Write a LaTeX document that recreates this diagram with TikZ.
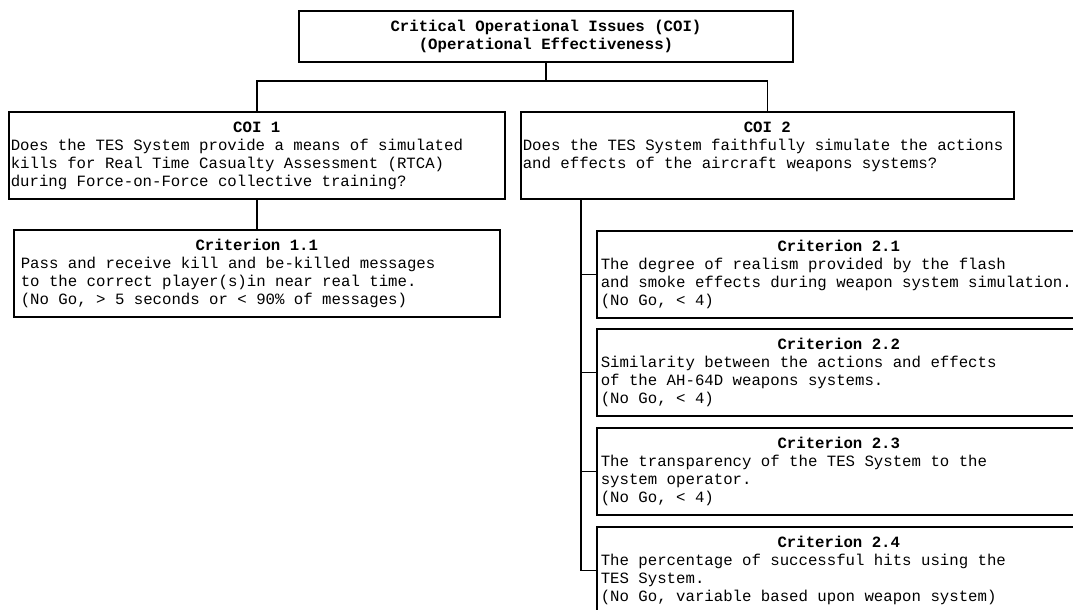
\documentclass[tikz,border=0pt]{standalone}
\usepackage{fontspec}
\setmonofont{Liberation Mono}
\newcommand{\cbody}[3]{\parbox[t][87pt][t]{#1}{\ttfamily\fontsize{15.7pt}{17.8pt}\selectfont\centering\bfseries\rule{0pt}{21pt}#2\par\raggedright\mdseries #3}}
\tikzset{
  cbox/.style={draw=black, line width=1.6pt, inner ysep=0pt, anchor=north west},
  conn/.style={draw=black, line width=1.6pt}
}
\begin{document}
\begin{tikzpicture}[x=1pt,y=-1pt]
\clip (0,0) rectangle (1073,610);
\fill[white] (0,0) rectangle (1073,610);
\node[draw=black, line width=1.6pt, inner sep=0pt, minimum width=494pt, minimum height=51pt, align=center,
  font=\ttfamily\bfseries\fontsize{15.7pt}{18pt}\selectfont] (top) at (546,36.5)
  {Critical Operational Issues (COI)\\(Operational Effectiveness)};
\node[cbox, inner xsep=2pt] (coi1) at (8,111) {\cbody{492pt}{COI 1}{Does the TES System provide a means of simulated\\kills for Real Time Casualty Assessment (RTCA)\\during Force-on-Force collective training?}};
\node[cbox, inner xsep=2pt] (coi2) at (520,111) {\cbody{489pt}{COI 2}{Does the TES System faithfully simulate the actions\\and effects of the aircraft weapons systems?}};
\node[cbox, inner xsep=7pt] (c11) at (13,229) {\cbody{472pt}{Criterion 1.1}{Pass and receive kill and be-killed messages\\to the correct player(s)in near real time.\\(No Go, > 5 seconds or < 90\% of messages)}};
\node[cbox, inner xsep=4pt] (c21) at (596,230) {\cbody{476pt}{Criterion 2.1}{The degree of realism provided by the flash\\and smoke effects during weapon system simulation.\\(No Go, < 4)}};
\node[cbox, inner xsep=4pt] (c22) at (596,328) {\cbody{476pt}{Criterion 2.2}{Similarity between the actions and effects\\of the AH-64D weapons systems.\\(No Go, < 4)}};
\node[cbox, inner xsep=4pt] (c23) at (596,427) {\cbody{476pt}{Criterion 2.3}{The transparency of the TES System to the\\system operator.\\(No Go, < 4)}};
\node[cbox, inner xsep=4pt] (c24) at (596,526) {\cbody{476pt}{Criterion 2.4}{The percentage of successful hits using the\\TES System.\\(No Go, variable based upon weapon system)}};
\coordinate (bar) at ([yshift=-18pt]top.south);
\draw[conn] (top.south) -- (bar) -| (coi1.north);
\draw[conn] (bar) -| (coi2.north);
\draw[conn] (coi1.south) -- (c11.north);
\coordinate (sp) at ([xshift=61pt]coi2.south west);
\draw[conn] (sp) |- (c24.west);
\foreach \n in {c21,c22,c23} \draw[conn] (sp |- \n.west) -- (\n.west);
\end{tikzpicture}
\end{document}
